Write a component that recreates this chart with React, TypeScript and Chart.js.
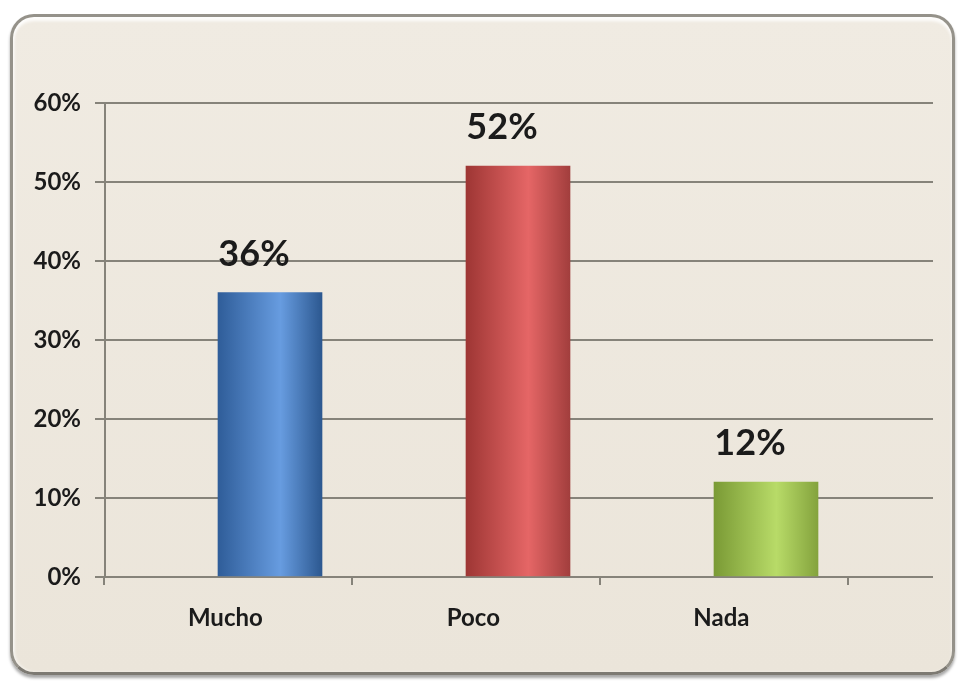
import React, { useEffect, useRef } from "react";
import { Chart, registerables } from "chart.js";

Chart.register(...registerables);

const CATEGORIES = ["Mucho", "Poco", "Nada"];
const VALUES = [36, 52, 12];
const Y_MIN = 0;
const Y_MAX = 60;
const Y_STEP = 10;
// gradient stops per bar: [edge-left, highlight, edge-right]
const BAR_COLORS = [
  ["#2f5d99", "#679ce0", "#2c5890"],
  ["#9e3634", "#e56666", "#a23e3d"],
  ["#7a9a35", "#b8db68", "#84a33d"],
];

const FONT = "Lato, 'Open Sans', sans-serif";
const GRID = "#86837a";
const BAR_W = 104;
const LABEL_SHIFT = -0.18; // category label offset, in category units
const BOUND_SHIFT = 0.33;

const overlayPlugin = {
  id: "overlay",
  afterDatasetsDraw(chart: any) {
    const { ctx, scales, chartArea } = chart;
    const xs = scales.x;
    ctx.save();
    // category boundary tick marks
    ctx.strokeStyle = GRID;
    ctx.lineWidth = 2;
    for (let i = 0; i <= CATEGORIES.length; i++) {
      const px = Math.round(xs.getPixelForValue(i + BOUND_SHIFT));
      ctx.beginPath();
      ctx.moveTo(px, chartArea.bottom);
      ctx.lineTo(px, chartArea.bottom + 8);
      ctx.stroke();
    }
    // value labels
    const meta = chart.getDatasetMeta(0);
    ctx.fillStyle = "#1b1b1b";
    ctx.font = `bold 36px ${FONT}`;
    ctx.textAlign = "center";
    ctx.textBaseline = "alphabetic";
    meta.data.forEach((bar: any, i: number) => {
      ctx.fillText(`${VALUES[i]}%`, bar.x - 16, bar.y - 27);
    });
    ctx.restore();
  },
};

export default function App() {
  const ref = useRef<HTMLCanvasElement>(null);
  useEffect(() => {
    if (!ref.current) return;
    const chart = new Chart(ref.current, {
      type: "bar",
      data: {
        datasets: [
          {
            data: VALUES.map((v, i) => ({ x: i + 1, y: v })),
            barThickness: BAR_W,
            borderWidth: 0,
            backgroundColor: (c: any) => {
              const chart = c.chart;
              const cols = BAR_COLORS[c.dataIndex % BAR_COLORS.length];
              const xs = chart.scales?.x;
              if (!xs || !chart.chartArea) return cols[1];
              const cx = xs.getPixelForValue(c.dataIndex + 1);
              const g = chart.ctx.createLinearGradient(cx - BAR_W / 2, 0, cx + BAR_W / 2, 0);
              g.addColorStop(0, cols[0]);
              g.addColorStop(0.6, cols[1]);
              g.addColorStop(1, cols[2]);
              return g;
            },
          },
        ],
      },
      options: {
        animation: false,
        responsive: false,
        maintainAspectRatio: false,
        layout: { padding: { left: 0, top: 86, right: 19, bottom: 0 } },
        plugins: { legend: { display: false }, tooltip: { enabled: false } },
        scales: {
          x: {
            type: "linear",
            offset: false,
            min: 1 - 165 / 248,
            max: 1 + 663 / 248,
            grid: { display: false, offset: false },
            border: { display: false },
            afterBuildTicks: (scale: any) => {
              scale.ticks = CATEGORIES.map((_, i) => ({ value: i + 1 + LABEL_SHIFT }));
            },
            afterFit: (scale: any) => {
              scale.height = 95;
            },
            ticks: {
              autoSkip: false,
              maxRotation: 0,
              padding: 19,
              color: "#1b1b1b",
              font: { family: FONT, size: 24, weight: "bold" },
              callback: (_v: any, i: number) => CATEGORIES[i],
            },
          },
          y: {
            min: Y_MIN,
            max: Y_MAX,
            grid: { color: GRID, lineWidth: 2, tickLength: 10 },
            border: { display: true, color: GRID, width: 2 },
            afterFit: (scale: any) => {
              scale.width = 92;
            },
            ticks: {
              stepSize: Y_STEP,
              padding: 14,
              color: "#1b1b1b",
              font: { family: FONT, size: 24, weight: "bold" },
              callback: (v: any) => `${v}%`,
            },
          },
        },
      },
      plugins: [overlayPlugin],
    });
    return () => chart.destroy();
  }, []);

  return (
    <div
      style={{
        position: "absolute",
        left: 10,
        top: 14,
        width: 945,
        height: 661,
        boxSizing: "border-box",
        border: "3px solid #95928a",
        borderBottomColor: "#7d7a73",
        borderRadius: 24,
        background: "linear-gradient(180deg, #f0ebe2 0%, #ebe5da 100%)",
        boxShadow:
          "inset 0 4px 3px rgba(255,255,255,0.85), inset 2px 0 3px rgba(255,255,255,0.5), 0 3px 3px rgba(0,0,0,0.35)",
        overflow: "hidden",
      }}
    >
      <canvas ref={ref} width={939} height={655} style={{ display: "block" }} />
    </div>
  );
}
